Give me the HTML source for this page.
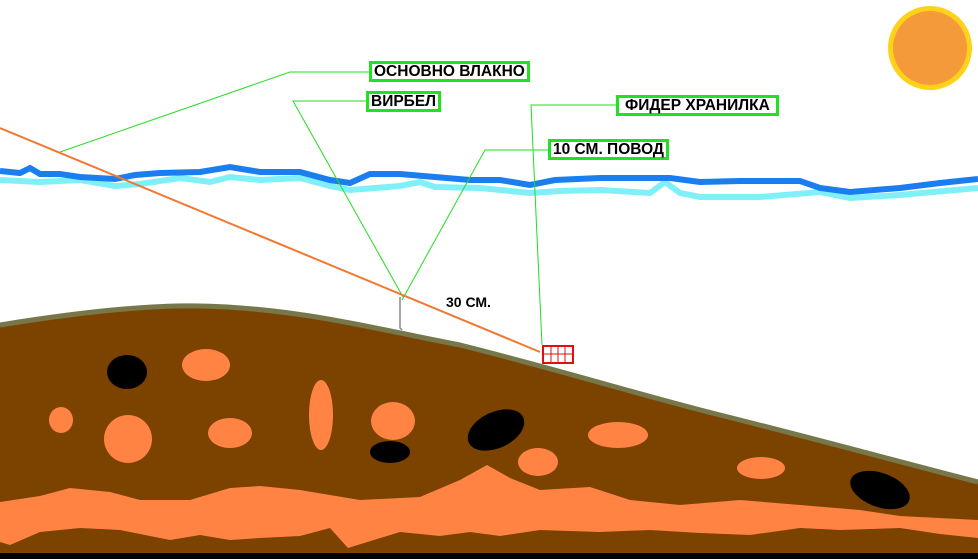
<!DOCTYPE html>
<html><head><meta charset="utf-8"><style>
html,body{margin:0;padding:0;background:#fff;width:978px;height:559px;overflow:hidden}
.l{position:absolute;border:3px solid #22e022;background:#fff;font:bold 15.5px "Liberation Sans",sans-serif;color:#000;padding:0 2px;line-height:15px;white-space:nowrap}
</style></head><body>
<svg width="978" height="559" style="position:absolute;left:0;top:0">
<!-- sun -->
<circle cx="930" cy="48" r="42" fill="#ffd21a"/>
<circle cx="930" cy="48" r="37" fill="#f59a3a"/>
<!-- water -->
<polyline fill="none" stroke="#80f0f8" stroke-width="6" points="0,180 40,182 80,180 115,186 140,184 180,178 210,182 230,177 260,180 300,178 330,186 350,190 400,186 420,182 435,187 480,188 530,193 560,191 600,190 650,193 665,182 680,193 700,197 760,197 820,192 850,198 900,195 978,188"/>
<polyline fill="none" stroke="#1a7ef0" stroke-width="6" points="0,171 20,173 30,168 40,174 60,174 80,177 115,179 135,175 160,173 200,172 230,167 260,172 300,172 330,180 350,183 370,174 400,174 435,177 470,180 500,180 530,185 555,180 600,178 670,178 700,182 740,181 800,181 820,188 850,192 900,188 940,183 978,179"/>
<!-- leaders -->
<g stroke="#22dd22" stroke-width="1" fill="none">
<polyline points="370,72 290,72 60,152"/>
<polyline points="367,101 293,101 403,297"/>
<polyline points="550,150 485,150 402,300"/>
<polyline points="617,105 531,105 542,345"/>
</g>
<!-- line -->
<line x1="0" y1="128" x2="540" y2="352" stroke="#f07830" stroke-width="2"/>
<path d="M400,297 L400,328 L402,330" stroke="#888" stroke-width="1.5" fill="none"/>
<!-- ground -->
<path d="M0,325 C80,312 150,305 200,306 C300,308 380,330 460,345 C560,370 640,395 720,415 C820,440 900,462 978,482 L978,559 L0,559 Z" fill="#7c4200"/>
<path d="M0,325 C80,312 150,305 200,306 C300,308 380,330 460,345 C560,370 640,395 720,415 C820,440 900,462 978,482" fill="none" stroke="#77774a" stroke-width="5"/>
<!-- orange bands -->
<path d="M0,502 L40,496 L70,488 L110,492 L140,500 L190,500 L230,488 L260,486 L300,490 L360,500 L420,497 L460,480 L487,465 L510,478 L540,490 L590,487 L630,500 L680,505 L740,500 L800,505 L860,510 L900,516 L978,520 L978,538 L940,534 L900,528 L840,530 L800,528 L750,535 L700,533 L650,530 L600,532 L540,530 L500,536 L470,532 L440,536 L400,532 L348,548 L330,528 L300,536 L260,538 L230,540 L200,535 L170,540 L120,530 L80,528 L40,532 L10,545 L0,542 Z" fill="#ff8444"/>
<rect x="0" y="553" width="978" height="6" fill="#000"/>
<g fill="#ff8444">
<ellipse cx="206" cy="365" rx="24" ry="16"/>
<ellipse cx="61" cy="420" rx="12" ry="13"/>
<ellipse cx="128" cy="439" rx="24" ry="24"/>
<ellipse cx="230" cy="433" rx="22" ry="15"/>
<ellipse cx="321" cy="415" rx="12" ry="35"/>
<ellipse cx="393" cy="421" rx="22" ry="19"/>
<ellipse cx="618" cy="435" rx="30" ry="13"/>
<ellipse cx="538" cy="462" rx="20" ry="14"/>
<ellipse cx="761" cy="468" rx="24" ry="11"/>
</g>
<g fill="#000">
<ellipse cx="127" cy="372" rx="20" ry="17"/>
<ellipse cx="390" cy="452" rx="20" ry="11"/>
<ellipse cx="496" cy="430" rx="30" ry="18" transform="rotate(-25 496 430)"/>
<ellipse cx="880" cy="490" rx="31" ry="17" transform="rotate(20 880 490)"/>
</g>
<!-- feeder -->
<rect x="543" y="346" width="30" height="17" fill="#fff" stroke="#e01010" stroke-width="2"/>
<g stroke="#e01010" stroke-width="1">
<line x1="543" y1="354" x2="573" y2="354"/>
<line x1="551" y1="346" x2="551" y2="363"/>
<line x1="558" y1="346" x2="558" y2="363"/>
<line x1="565" y1="346" x2="565" y2="363"/>
</g>
<text x="446" y="307" font-family="Liberation Sans,sans-serif" font-weight="bold" font-size="14">30 СМ.</text>
</svg>
<div class="l" style="left:369px;top:61px">ОСНОВНО ВЛАКНО</div>
<div class="l" style="left:366px;top:91px">ВИРБЕЛ</div>
<div class="l" style="left:616px;top:95px;padding:0 6px">ФИДЕР ХРАНИЛКА</div>
<div class="l" style="left:548px;top:139px">10 СМ. ПОВОД</div>
</body></html>
